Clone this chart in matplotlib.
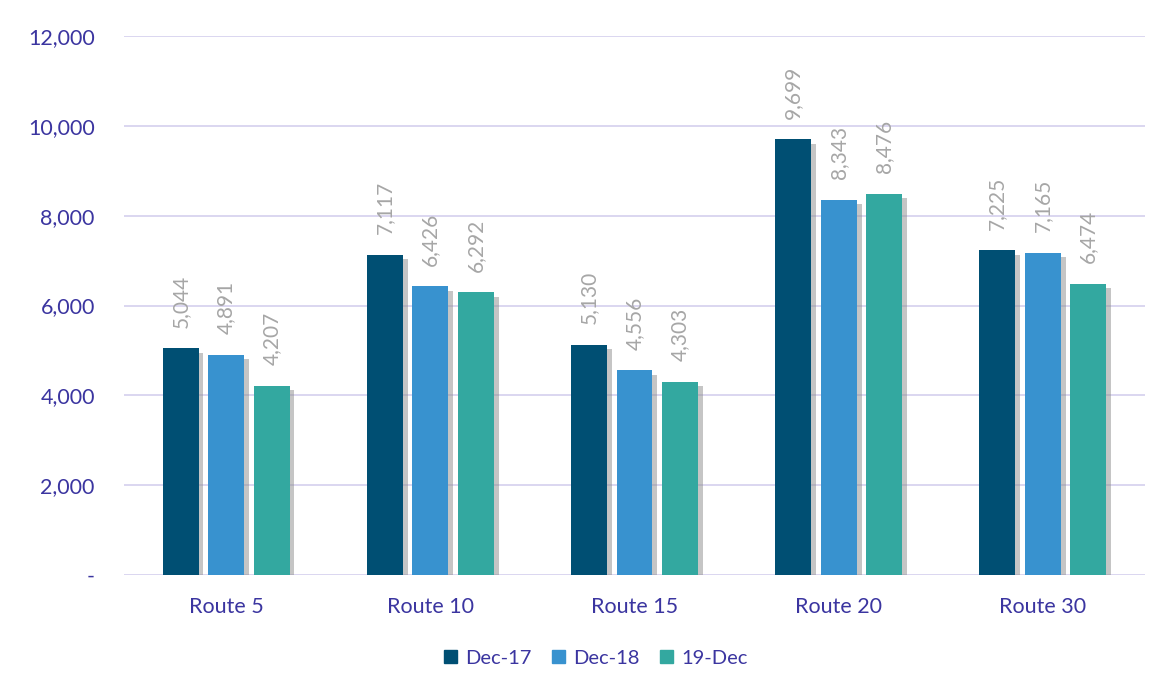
import matplotlib
matplotlib.use("Agg")
import matplotlib.pyplot as plt
import matplotlib.patheffects as pe
from matplotlib.patches import Patch
import numpy as np

routes = ["Route 5", "Route 10", "Route 15", "Route 20", "Route 30"]
series = ["Dec-17", "Dec-18", "19-Dec"]
dec17 = [5044, 7117, 5130, 9699, 7225]
dec18 = [4891, 6426, 4556, 8343, 7165]
dec19 = [4207, 6292, 4303, 8476, 6474]
colours = ["#004F73", "#3892CF", "#33A8A0"]

plt.rcParams['font.family'] = ['Lato', 'DejaVu Sans']
txt_col = "#3B35A0"

fig = plt.figure(figsize=(11.72, 6.95), dpi=100)
ax = fig.add_axes([124/1172, 1 - 575/695, (1145-124)/1172, (575-36)/695])

x = np.arange(len(routes))
w = 0.176
step = 0.223
shadow = [pe.SimplePatchShadow(offset=(3.5, -3), shadow_rgbFace='#8c8c8c', alpha=0.5), pe.Normal()]
for i, (name, vals) in enumerate(zip(series, [dec17, dec18, dec19])):
    pos = x + (i - 1) * step
    ax.bar(pos, vals, w, color=colours[i], zorder=3, path_effects=shadow)
    for p, v in zip(pos, vals):
        ax.annotate(f"{v:,}", (p, v), xytext=(0, 15), textcoords='offset points',
                    rotation=90, ha='center', va='bottom', fontsize=15, color='#A6A6A6')

ax.set_xlim(-0.5, 4.5)
ax.set_ylim(0, 12000)
ax.set_yticks(range(0, 12001, 2000))
ax.set_yticklabels(["-"] + [f"{t:,}" for t in range(2000, 12001, 2000)])
ax.set_xticks(x)
ax.set_xticklabels(routes)
ax.grid(axis='y', color='#D4D0EE', linewidth=1.2, zorder=0)
for s in ax.spines.values():
    s.set_visible(False)
ax.tick_params(axis='y', length=0, pad=21, labelsize=15.5, labelcolor=txt_col)
ax.tick_params(axis='x', length=0, pad=16, labelsize=15.5, labelcolor=txt_col)

handles = [Patch(color=c, label=n) for c, n in zip(colours, series)]
leg = ax.legend(handles=handles, loc='center', bbox_to_anchor=(0.462, -0.155), ncol=3,
                frameon=False, fontsize=14.5, handlelength=0.62, handleheight=0.62,
                handletextpad=0.4, columnspacing=1.05)
for t in leg.get_texts():
    t.set_color(txt_col)

fig.savefig("out.png", dpi=100)
